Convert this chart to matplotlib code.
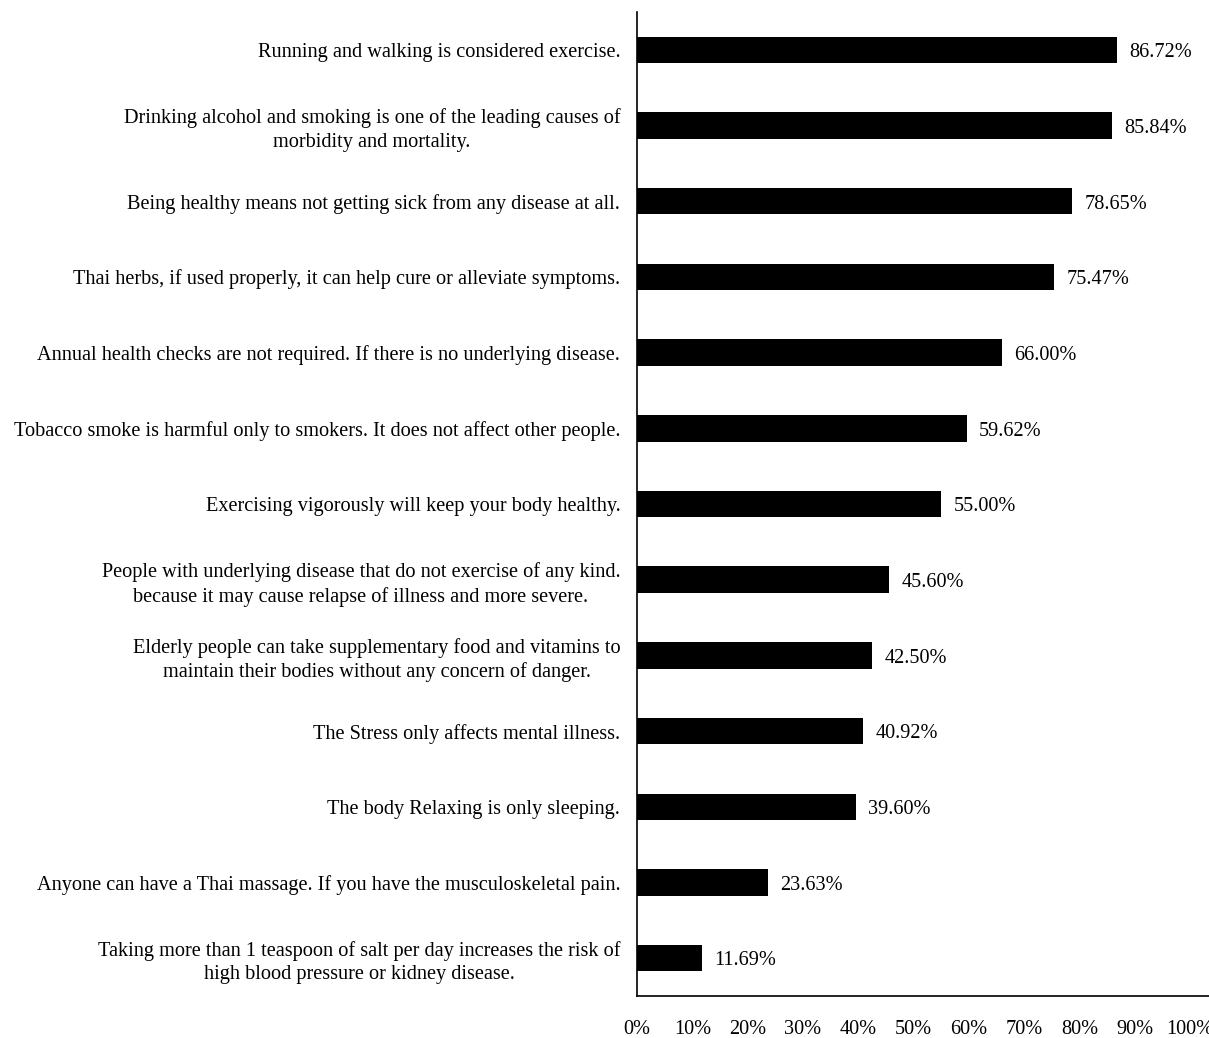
import matplotlib.pyplot as plt

# survey statements (top to bottom) and percent answering correctly
statements = [
    "Running and walking is considered exercise.",
    "Drinking alcohol and smoking is one of the leading causes of\nmorbidity and mortality.",
    "Being healthy means not getting sick from any disease at all.",
    "Thai herbs, if used properly, it can help cure or alleviate symptoms.",
    "Annual health checks are not required. If there is no underlying disease.",
    "Tobacco smoke is harmful only to smokers. It does not affect other people.",
    "Exercising vigorously will keep your body healthy.",
    "People with underlying disease that do not exercise of any kind.\nbecause it may cause relapse of illness and more severe.",
    "Elderly people can take supplementary food and vitamins to\nmaintain their bodies without any concern of danger.",
    "The Stress only affects mental illness.",
    "The body Relaxing is only sleeping.",
    "Anyone can have a Thai massage. If you have the musculoskeletal pain.",
    "Taking more than 1 teaspoon of salt per day increases the risk of\nhigh blood pressure or kidney disease.",
]
percents = [86.72, 85.84, 78.65, 75.47, 66.00, 59.62, 55.00,
            45.60, 42.50, 40.92, 39.60, 23.63, 11.69]
tick_values = [0, 10, 20, 30, 40, 50, 60, 70, 80, 90, 100]

plt.rcParams['font.family'] = ['Liberation Serif', 'DejaVu Serif']
FS = 14.6

fig = plt.figure(figsize=(12.09, 10.38), dpi=100)
ax = fig.add_axes([637 / 1209, 1 - 996 / 1038, 1 - 637 / 1209, (996 - 12) / 1038])

ypos = list(range(len(percents)))
ax.barh(ypos, percents, height=0.35, color="black")

for y, v in zip(ypos, percents):
    ax.annotate(f"{v:.2f}%", (v, y), xytext=(9, -2), textcoords="offset points",
                va="center", ha="left", fontsize=FS)

ax.set_yticks(ypos)
ax.set_yticklabels(statements, fontsize=FS, linespacing=1.3, ha="right",
                   multialignment="center")
ax.set_ylim(len(percents) - 0.5, -0.5)
ax.set_xlim(0, 572 / 5.53)
ax.set_xticks(tick_values)
ax.set_xticklabels([f"{t}%" for t in tick_values], fontsize=FS)

ax.tick_params(axis="y", length=0, pad=12)
ax.tick_params(axis="x", length=0, pad=17)
for side in ["top", "right"]:
    ax.spines[side].set_visible(False)
ax.spines["left"].set_linewidth(1.2)
ax.spines["bottom"].set_linewidth(1.2)

fig.savefig("out.png", dpi=100)
